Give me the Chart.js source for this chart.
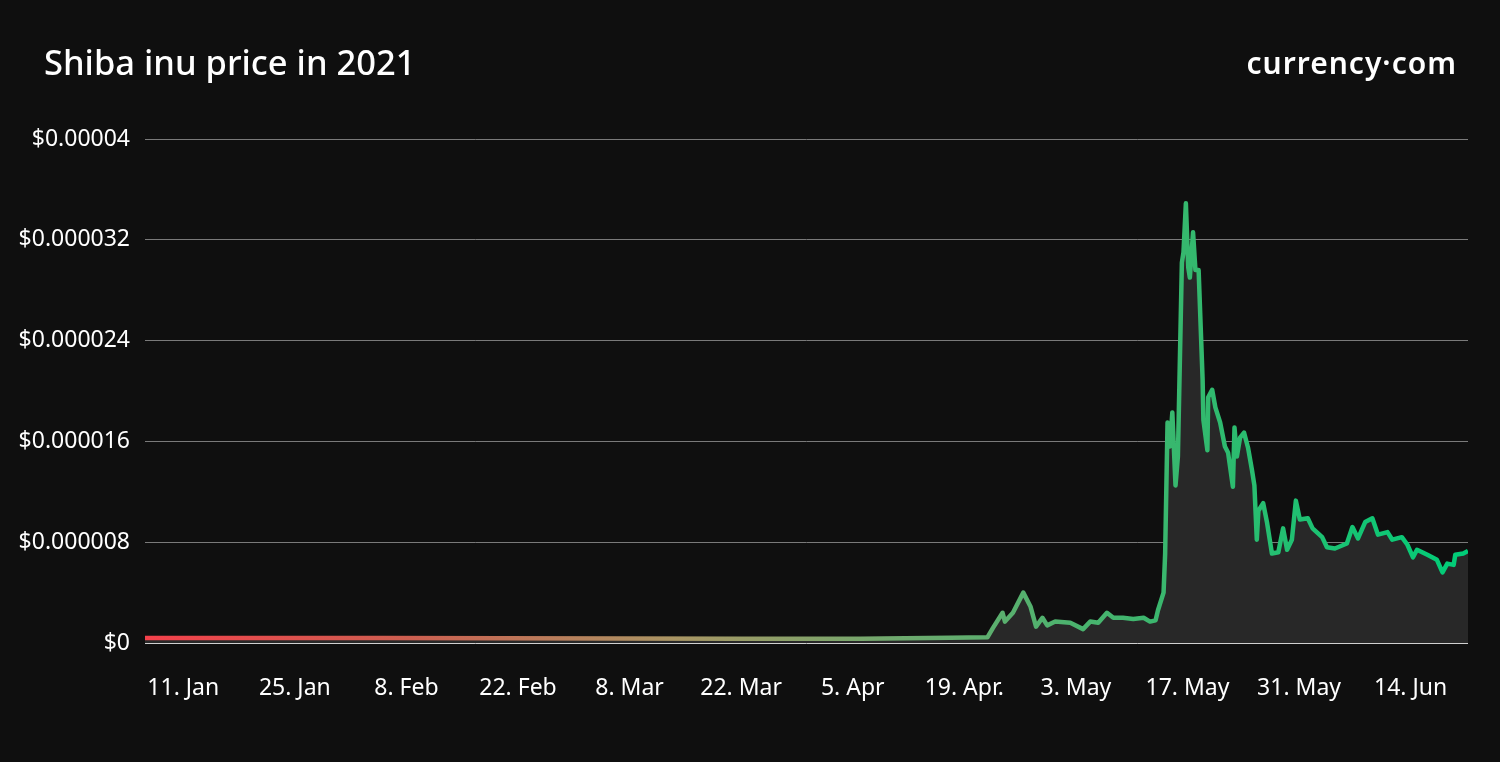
<!DOCTYPE html>
<html>
<head>
<meta charset="utf-8">
<script src="https://cdn.jsdelivr.net/npm/chart.js@4/dist/chart.umd.min.js"></script>
<style>
  html, body { margin: 0; padding: 0; background: #0f0f0f; }
  #wrap { position: relative; width: 1500px; height: 762px; }
  #title { position: absolute; left: 44px; top: 38px; color: #fff; font: 500 34.5px "Noto Sans", sans-serif; }
  #brand { position: absolute; right: 43px; top: 42px; color: #fff; font: 600 30px "Noto Sans", sans-serif; letter-spacing: 1px; }
</style>
</head>
<body>
<div id="wrap">
  <canvas id="chart" width="1500" height="762"></canvas>
  <div id="title">Shiba inu price in 2021</div>
  <div id="brand">currency·com</div>
</div>
<script>
// day of year 2021 (1 Jan = 0)
const days = [5.2, 20, 35, 50, 65, 80, 95, 106.2, 110.9, 111.6, 112.8, 113.1, 114.1, 115.4, 116.3, 117.0,
  117.8, 118.4, 119.4, 121.3, 122.9, 123.8, 124.8, 125.9, 126.7, 127.9, 129.2, 130.5, 131.3, 132.0,
  132.3, 133.0, 133.2, 133.5, 133.8, 134.1, 134.5, 134.8, 135.3, 135.5, 135.8, 136.1, 136.3, 136.7,
  137.0, 137.4, 137.9, 138.0, 138.5, 138.6, 139.1, 139.5, 140.1, 140.7, 141.1, 141.7, 141.9, 142.2,
  142.6, 143.1, 143.6, 144.1, 144.4, 144.7, 144.9, 145.5, 146.0, 146.6, 147.4, 148.0, 148.5, 149.1,
  149.6, 150.1, 151.1, 151.7, 152.9, 153.5, 154.5, 156.0, 156.7, 157.4, 158.3, 159.2, 159.9, 161.1,
  161.7, 162.9, 163.6, 164.3, 164.8, 166.1, 167.3, 168.0, 168.6, 169.4, 169.6, 170.6, 171.2];

// price in millionths of a dollar
const prices = [0.4, 0.4, 0.4, 0.38, 0.36, 0.34, 0.34, 0.42, 0.45, 1.2, 2.4, 1.7, 2.4, 4.0, 2.9, 1.3,
  2.0, 1.4, 1.7, 1.6, 1.1, 1.7, 1.6, 2.4, 2.0, 2.0, 1.9, 2.0, 1.7, 1.8,
  2.6, 4.0, 7.1, 17.5, 15.6, 18.3, 12.5, 14.8, 30.2, 31.0, 34.9, 29.8, 29.0, 32.6,
  29.6, 29.6, 20.9, 17.7, 15.3, 19.5, 20.1, 18.7, 17.5, 15.6, 15.1, 12.4, 17.1, 14.8,
  16.3, 16.7, 15.5, 13.7, 12.5, 8.2, 10.5, 11.1, 9.5, 7.1, 7.2, 9.1, 7.4, 8.2,
  11.3, 9.8, 9.9, 9.1, 8.4, 7.6, 7.5, 7.9, 9.2, 8.3, 9.6, 9.9, 8.6, 8.8,
  8.2, 8.4, 7.8, 6.8, 7.4, 7.0, 6.6, 5.6, 6.3, 6.2, 7.0, 7.1, 7.3];

const xTickDays = [10, 24, 38, 52, 66, 80, 94, 108, 122, 136, 150, 164];
const xTickLabels = ["11. Jan", "25. Jan", "8. Feb", "22. Feb", "8. Mar", "22. Mar", "5. Apr",
  "19. Apr.", "3. May", "17. May", "31. May", "14. Jun"];
const yTickValues = [0, 8, 16, 24, 32, 40];
const yTickLabels = ["$0", "$0.000008", "$0.000016", "$0.000024", "$0.000032", "$0.00004"];

const points = days.map((d, i) => ({ x: d, y: prices[i] }));

function lineGradient(context) {
  const { ctx, chartArea } = context.chart;
  if (!chartArea) return "#32b96e";
  const g = ctx.createLinearGradient(chartArea.left, 0, chartArea.right, 0);
  g.addColorStop(0, "#f4414b");
  g.addColorStop(0.2, "#cd5f50");
  g.addColorStop(0.4, "#aa9664");
  g.addColorStop(0.57, "#6eaa6e");
  g.addColorStop(0.8, "#32b96e");
  g.addColorStop(1, "#00cd78");
  return g;
}

new Chart(document.getElementById("chart"), {
  type: "line",
  data: {
    datasets: [{
      data: points,
      borderColor: lineGradient,
      borderWidth: 4.5,
      borderJoinStyle: "round",
      backgroundColor: "#282828",
      fill: "origin",
      pointRadius: 0,
      tension: 0
    }]
  },
  options: {
    responsive: false,
    animation: false,
    layout: { padding: { top: 139, right: 32, bottom: 49, left: 10 } },
    plugins: { legend: { display: false }, tooltip: { enabled: false } },
    scales: {
      x: {
        type: "linear",
        min: days[0],
        max: days[days.length - 1],
        afterBuildTicks: axis => { axis.ticks = xTickDays.map(v => ({ value: v })); },
        afterFit: axis => { axis.height = 70; },
        ticks: {
          color: "#ffffff",
          font: { family: "Noto Sans", size: 23 },
          padding: 24,
          maxRotation: 0,
          autoSkip: false,
          callback: v => xTickLabels[xTickDays.indexOf(v)]
        },
        grid: { display: false },
        border: { display: false }
      },
      y: {
        min: 0,
        max: 40,
        afterBuildTicks: axis => { axis.ticks = yTickValues.map(v => ({ value: v })); },
        afterFit: axis => { axis.width = 135; },
        ticks: {
          color: "#ffffff",
          font: { family: "Noto Sans", size: 23 },
          padding: 15,
          callback: v => yTickLabels[yTickValues.indexOf(v)]
        },
        grid: {
          color: ctx => ctx.tick && ctx.tick.value === 0 ? "#d0d0d0" : "#7a7a7a",
          lineWidth: 1,
          drawTicks: false
        },
        border: { display: false }
      }
    }
  }
});
</script>
</body>
</html>
